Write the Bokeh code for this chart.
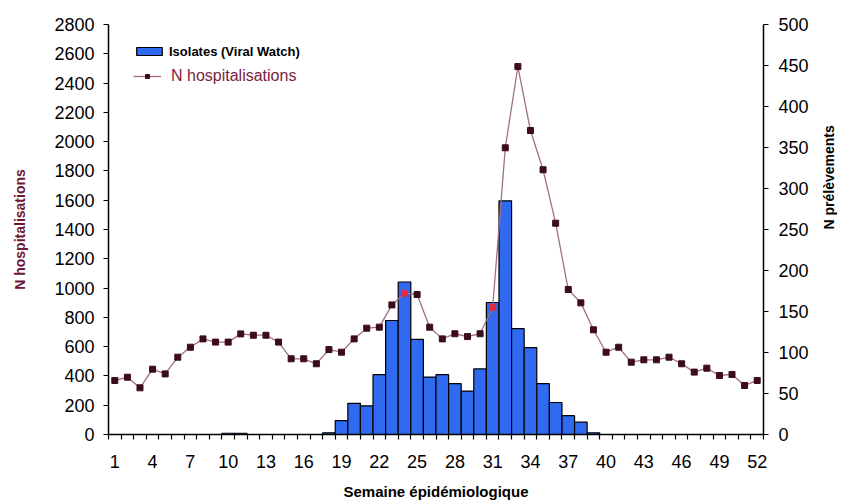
import math
from bokeh.plotting import figure
from bokeh.models import Range1d, LinearAxis, FixedTicker, Legend, LegendItem, ColumnDataSource
from bokeh.embed import file_html
from bokeh.resources import INLINE

weeks = list(range(1, 53))
isolates = [0, 0, 0, 0, 0, 0, 0, 0, 0, 1.5, 1.5, 0, 0, 0, 0, 0, 0, 2,
            17, 38, 35, 73, 139, 186, 116, 70, 73, 62, 53, 80, 161, 285, 129, 106,
            62, 39, 23, 15, 2, 0, 0, 0, 0, 0, 0, 0, 0, 0, 0, 0, 0, 0]
hosp = [369, 391, 319, 446, 414, 528, 596, 653, 631, 631, 687, 678, 678, 631,
        517, 517, 483, 580, 562, 653, 726, 733, 885, 965, 956, 733, 653, 688,
        669, 688, 869, 1958, 2513, 2076, 1808, 1443, 990, 899, 715, 562, 596,
        494, 510, 510, 528, 483, 426, 453, 403, 410, 335, 369]
x_tick_labels = list(range(1, 53, 3))
left_ticks = list(range(0, 2801, 200))
right_ticks = list(range(0, 501, 50))

LEFT_MAX = 2800
RIGHT_MAX = 500

marker_colors = ["#e8283c" if h / LEFT_MAX < i / RIGHT_MAX else "#3d0c1c"
                 for h, i in zip(hosp, isolates)]

src = ColumnDataSource(dict(w=weeks, iso=isolates, h=hosp, mc=marker_colors))

FONT = "Liberation Sans"

p = figure(width=847, height=504, x_range=Range1d(0.5, 52.5),
           y_range=Range1d(0, LEFT_MAX), output_backend="svg",
           toolbar_location=None, min_border_left=108, min_border_right=82,
           min_border_top=24, min_border_bottom=70)
p.extra_y_ranges = {"right": Range1d(0, RIGHT_MAX)}
p.outline_line_color = None
p.xgrid.visible = False
p.ygrid.visible = False
p.background_fill_color = "white"
p.border_fill_color = "white"

bars = p.vbar(x="w", top="iso", width=1.0, source=src, y_range_name="right",
              fill_color="#2f6af0", line_color="black", line_width=1.2)
ln = p.line(x="w", y="h", source=src, line_color="#a07080", line_width=1.3)
mk = p.scatter(x="w", y="h", source=src, marker="square", size=6,
               fill_color="mc", line_color="mc")

# x axis
xa = p.xaxis[0]
xa.ticker = FixedTicker(ticks=x_tick_labels, minor_ticks=[k + 0.5 for k in range(0, 53)])
xa.major_tick_line_color = None
xa.major_tick_out = 0
xa.major_tick_in = 0
xa.minor_tick_out = 5
xa.minor_tick_in = 0
xa.minor_tick_line_color = "black"
xa.minor_tick_line_width = 1.2
xa.axis_line_width = 1.5
xa.major_label_text_font = FONT
xa.major_label_text_font_size = "18px"
xa.major_label_text_color = "black"
xa.major_label_standoff = 15
xa.axis_label = "Semaine épidémiologique"
xa.axis_label_text_font = FONT
xa.axis_label_text_font_size = "15px"
xa.axis_label_text_font_style = "bold"
xa.axis_label_text_color = "black"
xa.axis_label_standoff = 12

# left axis
ya = p.yaxis[0]
ya.ticker = FixedTicker(ticks=left_ticks)
ya.minor_tick_line_color = None
ya.major_tick_out = 5
ya.major_tick_in = 0
ya.major_tick_line_width = 1.2
ya.axis_line_width = 1.5
ya.major_label_text_font = FONT
ya.major_label_text_font_size = "18px"
ya.major_label_text_color = "black"
ya.major_label_standoff = 9
ya.axis_label = "N hospitalisations"
ya.axis_label_text_font = FONT
ya.axis_label_text_font_size = "14px"
ya.axis_label_text_font_style = "bold"
ya.axis_label_text_color = "#6b1836"
ya.axis_label_standoff = 23

# right axis
ra = LinearAxis(y_range_name="right", ticker=FixedTicker(ticks=right_ticks))
ra.minor_tick_line_color = None
ra.major_tick_out = 5
ra.major_tick_in = 0
ra.major_tick_line_width = 1.2
ra.axis_line_width = 1.5
ra.major_label_text_font = FONT
ra.major_label_text_font_size = "18px"
ra.major_label_text_color = "black"
ra.major_label_standoff = 10
ra.axis_label = "N prélèvements"
ra.axis_label_text_font = FONT
ra.axis_label_text_font_size = "14px"
ra.axis_label_text_font_style = "bold"
ra.axis_label_text_color = "black"
ra.axis_label_standoff = 17
ra.axis_label_orientation = math.pi / 2
p.add_layout(ra, "right")

leg1 = Legend(items=[LegendItem(label="Isolates (Viral Watch)", renderers=[bars])],
              location=(25, 375), background_fill_alpha=0, border_line_color=None,
              label_text_font=FONT, label_text_font_size="13px", label_text_font_style="bold",
              label_text_color="black",
              glyph_width=32, glyph_height=10, padding=0, margin=0, spacing=0,
              label_standoff=4, label_height=16)
leg2 = Legend(items=[LegendItem(label="N hospitalisations", renderers=[ln, mk])],
              location=(25, 349), background_fill_alpha=0, border_line_color=None,
              label_text_font=FONT, label_text_font_size="16px", label_text_color="#7a1d3e",
              glyph_width=28, glyph_height=10, padding=0, margin=0, spacing=0,
              label_standoff=10, label_height=16)
p.add_layout(leg1)
p.add_layout(leg2)

open("out.html", "w").write(file_html(p, INLINE))
